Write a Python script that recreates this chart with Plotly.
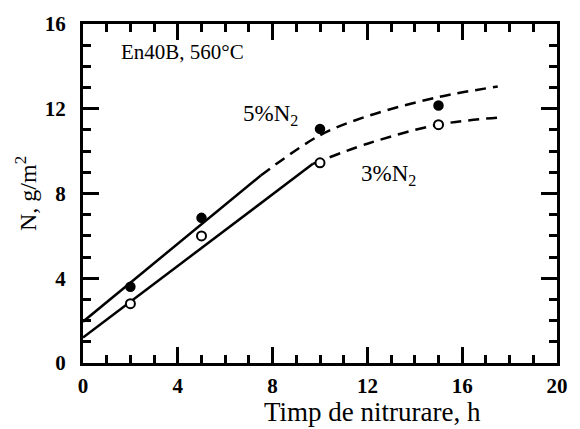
import plotly.graph_objects as go

# measured data points
t_pts = [2, 5, 10, 15]
n5_pts = [3.6, 6.85, 11.05, 12.15]
n3_pts = [2.8, 6.0, 9.45, 11.25]

# fitted curves: solid (linear) part and dashed (extrapolated) part
t5_solid = [0, 7.5]
n5_solid = [1.95, 8.85]
t5_dash = [7.5, 10, 12, 15, 17.5]
n5_dash = [8.85, 10.75, 11.65, 12.55, 13.05]

t3_solid = [0, 9.7]
n3_solid = [1.2, 9.4]
t3_dash = [9.7, 12, 15, 17.7]
n3_dash = [9.4, 10.35, 11.25, 11.6]

x_ticks = [0, 4, 8, 12, 16, 20]
y_ticks = [0, 4, 8, 12, 16]

FONT = "Liberation Serif"
lw = 2.5

fig = go.Figure()
fig.add_trace(go.Scatter(x=t5_solid, y=n5_solid, mode="lines",
                         line=dict(color="black", width=lw)))
fig.add_trace(go.Scatter(x=t5_dash, y=n5_dash, mode="lines", line_shape="spline",
                         line=dict(color="black", width=lw, dash="11px,7px")))
fig.add_trace(go.Scatter(x=t3_solid, y=n3_solid, mode="lines",
                         line=dict(color="black", width=lw)))
fig.add_trace(go.Scatter(x=t3_dash, y=n3_dash, mode="lines", line_shape="spline",
                         line=dict(color="black", width=lw, dash="11px,7px")))
fig.add_trace(go.Scatter(x=t_pts, y=n5_pts, mode="markers",
                         marker=dict(symbol="circle", size=9, color="black",
                                     line=dict(color="black", width=1.5))))
fig.add_trace(go.Scatter(x=t_pts, y=n3_pts, mode="markers",
                         marker=dict(symbol="circle", size=9, color="white",
                                     line=dict(color="black", width=2))))

axis_common = dict(
    showgrid=False, zeroline=False, showline=True, linecolor="black", linewidth=3,
    mirror="allticks", ticks="inside", ticklen=16, tickwidth=2.5, tickcolor="black",
    tickfont=dict(family=FONT, size=21, color="black", weight="bold"),
)

fig.update_xaxes(range=[0, 20], tickvals=x_ticks, ticktext=[str(v) for v in x_ticks],
                 minor=dict(dtick=1, ticks="inside", ticklen=8, tickwidth=2.5,
                            tickcolor="black"),
                 ticklabelstandoff=2,
                 **axis_common)
fig.update_yaxes(range=[0, 16], tickvals=y_ticks, ticktext=[str(v) for v in y_ticks],
                 minor=dict(dtick=1, ticks="inside", ticklen=8, tickwidth=2.5,
                            tickcolor="black"),
                 ticklabelstandoff=10,
                 title=dict(text="N, g/m<sup>2</sup>", font=dict(family=FONT, size=24,
                                                               color="black"),
                            standoff=2),
                 **axis_common)

fig.add_annotation(x=4.2, y=14.7, xref="x", yref="y", text="En40B, 560°C",
                   showarrow=False, font=dict(family=FONT, size=21, color="black"))
fig.add_annotation(x=7.9, y=11.7, xref="x", yref="y", text="5%N<sub>2</sub>",
                   showarrow=False, font=dict(family=FONT, size=23, color="black"))
fig.add_annotation(x=12.9, y=8.85, xref="x", yref="y", text="3%N<sub>2</sub>",
                   showarrow=False, font=dict(family=FONT, size=23, color="black"))
fig.add_annotation(x=0.61, y=-0.095, xref="paper", yref="paper",
                   text="Timp de nitrurare, h", showarrow=False, yanchor="top",
                   xanchor="center",
                   font=dict(family=FONT, size=27, color="black"))

fig.update_layout(
    width=580, height=429, showlegend=False,
    margin=dict(l=83, r=17, t=23, b=66),
    paper_bgcolor="white", plot_bgcolor="white",
)

fig.write_html("out.html")
